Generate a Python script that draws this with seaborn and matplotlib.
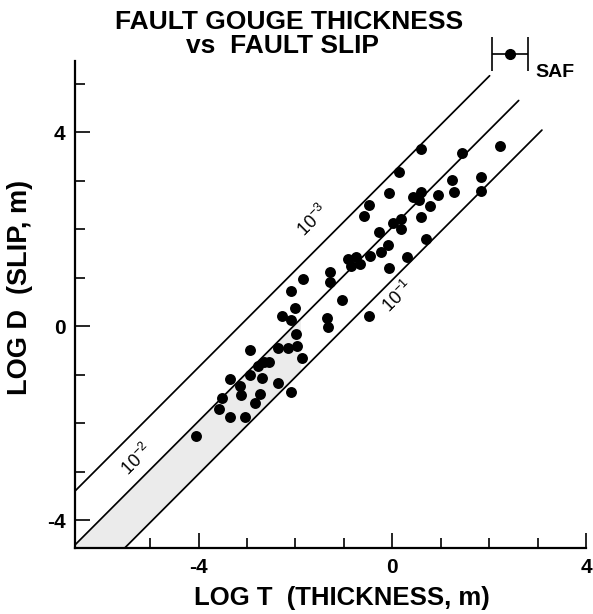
import numpy as np
import pandas as pd
import matplotlib
matplotlib.use("Agg")
import matplotlib.pyplot as plt
import seaborn as sns
from matplotlib.ticker import FixedLocator, MultipleLocator

# ---- data ----
log_t = [0.60, 1.45, 2.22, 0.13, -0.07, -0.47, -0.59, 1.24, 1.84, 1.84,
         1.27, 0.95, 0.60, 0.42, 0.56, 0.77, 0.59, 0.19, 0.01, 0.19,
         -0.27, -0.09, -0.24, -0.45, -0.75, -0.92, -0.85, -0.66, 0.30, -0.06,
         0.69, -1.28, -1.28, -1.85, -2.09, -1.04, -1.34, -1.33, -0.47, -2.28,
         -2.01, -2.09, -1.98, -1.96, -2.15, -2.35, -2.94, -1.86, -2.54, -2.64,
         -2.77, -2.35, -2.68, -2.93, -3.34, -3.14, -3.12, -2.73, -2.09, -3.52,
         -3.57, -2.84, -3.34, -3.05, -4.06]
log_d = [3.64, 3.57, 3.71, 3.17, 2.74, 2.49, 2.27, 3.01, 3.08, 2.79,
         2.76, 2.71, 2.77, 2.67, 2.60, 2.47, 2.24, 2.21, 2.12, 2.01,
         1.94, 1.67, 1.52, 1.45, 1.43, 1.38, 1.24, 1.28, 1.42, 1.19,
         1.79, 1.12, 0.91, 0.98, 0.73, 0.54, 0.16, -0.01, 0.21, 0.21,
         0.37, 0.13, -0.16, -0.42, -0.45, -0.46, -0.50, -0.66, -0.74, -0.74,
         -0.83, -1.17, -1.06, -1.01, -1.09, -1.24, -1.42, -1.39, -1.35, -1.49,
         -1.71, -1.59, -1.88, -1.88, -2.27]

saf_t = [2.43]
saf_d = [5.60]
saf_terr = [0.375]

ratio_labels = ["$10^{-3}$", "$10^{-2}$", "$10^{-1}$"]
ratio_intercepts = [3.15, 2.04, 0.95]
ratio_line_end = [2.01, 2.61, 3.09]
ratio_label_xy = [(-1.63, 2.18), (-5.26, -2.76), (0.11, 0.60)]

x_major = [-4, 0, 4]
y_major = [-4, 0, 4]
x_lim = (-6.55, 4.0)
y_lim = (-4.58, 5.47)

# ---- style ----
sns.set_theme(style="ticks")
plt.rcParams['font.family'] = ['Liberation Sans', 'DejaVu Sans']
plt.rcParams['mathtext.default'] = 'regular'
plt.rcParams['axes.unicode_minus'] = False
plt.rcParams['text.color'] = 'black'
plt.rcParams['xtick.color'] = 'black'
plt.rcParams['ytick.color'] = 'black'
plt.rcParams['xtick.labelcolor'] = 'black'
plt.rcParams['ytick.labelcolor'] = 'black'

fig = plt.figure(figsize=(5.93, 6.14), dpi=100)
ax = fig.add_axes([75 / 593, 1 - 548.3 / 614, (586 - 75) / 593, (548.3 - 60.7) / 614])
ax.set_xlim(*x_lim)
ax.set_ylim(*y_lim)

# shaded band between the 10^-2 and 10^-1 lines (lower part)
xs = np.linspace(x_lim[0], -1.9, 200)
ax.fill_between(xs, np.maximum(xs + ratio_intercepts[2], y_lim[0]),
                xs + ratio_intercepts[1], color="#ebebeb", lw=0, zorder=1)

# ratio lines
for b, xe in zip(ratio_intercepts, ratio_line_end):
    x0 = max(x_lim[0], y_lim[0] - b)
    xx = np.array([x0, xe])
    ax.plot(xx, xx + b, color="black", lw=1.25, zorder=2)

for lab, (lx, ly) in zip(ratio_labels, ratio_label_xy):
    ax.text(lx, ly, lab, rotation=45, rotation_mode="anchor", ha="center",
            va="center", fontsize=13, color="black")

# data points
df = pd.DataFrame({"logT": log_t, "logD": log_d})
sns.scatterplot(data=df, x="logT", y="logD", color="black", s=62,
                edgecolor="black", linewidth=0, ax=ax, zorder=3)

# San Andreas Fault point
eb = ax.errorbar(saf_t, saf_d, xerr=saf_terr, fmt="o", color="black", ms=7,
                 capsize=12, elinewidth=1.2, capthick=1.2, clip_on=False, zorder=4)
for art in eb.get_children():
    art.set_clip_on(False)
ax.text(3.35, 5.22, "SAF", fontsize=14, fontweight="bold", ha="center",
        va="center", clip_on=False, color="black")

# axes styling
for s in ["top", "right"]:
    ax.spines[s].set_visible(False)
for s in ["left", "bottom"]:
    ax.spines[s].set_linewidth(1.6)
    ax.spines[s].set_color("black")

ax.xaxis.set_major_locator(FixedLocator(x_major))
ax.yaxis.set_major_locator(FixedLocator(y_major))
ax.xaxis.set_minor_locator(MultipleLocator(1))
ax.yaxis.set_minor_locator(MultipleLocator(1))
ax.tick_params(which="major", direction="in", length=11, width=1.2,
               colors="black", labelsize=15, pad=7)
ax.tick_params(which="minor", direction="in", length=7, width=1.2, colors="black")
for lab in ax.get_xticklabels() + ax.get_yticklabels():
    lab.set_fontweight("bold")
ax.set_xlabel("")
ax.set_ylabel("")
ax.grid(False)

fig.text(342 / 593, 1 - 598 / 614, "LOG T  (THICKNESS, m)", fontsize=18.5,
         fontweight="bold", ha="center", va="center", color="black")
fig.text(20 / 593, 1 - 287 / 614, "LOG D  (SLIP, m)", fontsize=19.5,
         fontweight="bold", ha="center", va="center", rotation=90, color="black")
fig.text(289 / 593, 1 - 22 / 614, "FAULT GOUGE THICKNESS", fontsize=19,
         fontweight="bold", ha="center", va="center", color="black")
fig.text(283 / 593, 1 - 46 / 614, "vs  FAULT SLIP", fontsize=19,
         fontweight="bold", ha="center", va="center", color="black")

fig.savefig("out.png", dpi=100)
